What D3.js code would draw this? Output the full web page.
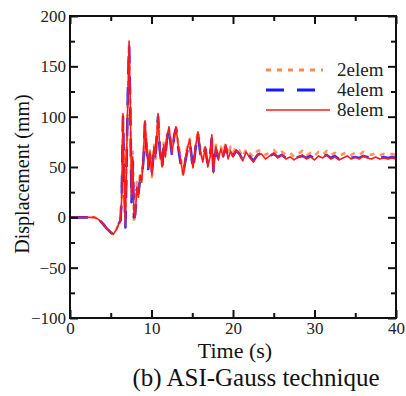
<!DOCTYPE html>
<html><head><meta charset="utf-8">
<script src="https://cdn.jsdelivr.net/npm/d3@7"></script>
</head>
<body style="margin:0;font-family:'Liberation Serif'"><svg id="c" width="406" height="396" font-family="Liberation Serif"></svg>
<script>
// ---- data ----
const time = [0,1.5,3.0,3.5,4.0,4.5,5.0,5.3,5.7,6.0,
  6.2,6.35,6.5,6.65,6.8,6.95,7.1,7.25,7.4,7.55,
  7.7,7.85,8.0,8.2,8.4,8.6,8.8,9.0,9.2,9.4,
  9.6,9.8,10.05,10.3,10.5,10.8,11.0,11.3,11.5,11.7,
  11.9,12.15,12.5,12.8,13.0,13.3,13.6,13.9,14.2,14.5,
  14.7,14.9,15.1,15.4,15.7,16.0,16.3,16.6,16.9,17.2,
  17.4,17.6,17.9,18.2,18.5,18.8,19.1,19.4,19.7,20.0,
  20.4,20.8,21.2,21.6,22.0,22.5,23.0,23.5,24.0,24.5,
  25.0,25.5,26.0,26.5,27.0,27.5,28.0,28.5,29.0,29.5,
  30.0,30.5,31.0,31.5,32.0,32.5,33.0,33.5,34.0,34.5,
  35.0,35.5,36.0,36.5,37.0,37.5,38.0,38.5,39.0,39.5,
  40.0];
const disp2elem = [0,0,0,-2,-6,-11,-15,-17,-12,-6,
  -4,18,95,45,-2,65,115,168,115,25,
  65,-6,5,35,22,45,38,62,92,72,
  52,68,40,72,58,98,72,52,74,62,
  82,86,66,78,92,72,58,40,62,74,
  78,58,52,72,86,67,58,72,55,64,
  80,50,72,62,70,64,74,62,70,64,
  70,66,60,68,64,60,66,67,62,65,
  67,62,65,62,64,60,63,66,61,64,
  61,65,62,66,62,64,61,63,65,62,
  64,62,65,63,62,64,62,63,62,63,
  62];
const disp4elem = [0,0,0,-2,-6,-11,-15,-17,-12,-6,
  -3,22,100,35,-10,55,125,172,105,15,
  55,0,3,28,24,38,40,55,94,66,
  48,62,45,68,62,100,68,48,70,62,
  78,88,62,82,88,68,52,45,58,70,
  75,62,47,68,82,63,57,68,52,62,
  78,46,68,58,66,61,70,59,65,61,
  66,63,57,64,61,56,62,64,59,61,
  63,60,62,59,61,58,60,61,59,61,
  58,61,60,62,59,61,58,60,61,59,
  60,59,61,60,59,60,59,60,59,60,
  59];
const disp8elem = [0,0,0,-2,-6,-11,-15,-17,-12,-6,
  -3,20,103,40,-8,60,120,175,110,20,
  60,5,0,30,20,42,35,60,96,70,
  50,65,42,70,60,103,70,50,72,60,
  80,90,64,80,90,70,55,42,60,72,
  77,60,49,70,85,65,55,70,50,60,
  82,44,70,57,68,60,72,58,66,60,
  67,62,56,65,60,55,62,63,58,61,
  64,59,62,58,60,57,60,62,58,60,
  57,61,59,62,58,60,57,59,61,58,
  60,58,61,59,58,60,58,59,58,59,
  58];
const seriesNames = ["2elem","4elem","8elem"];
const xMajorTicks = [0,10,20,30,40];
const xMinorTicks = [5,15,25,35];
const yMajorTicks = [-100,-50,0,50,100,150,200];
const yMinorTicks = [-75,-25,25,75,125,175];
const xTitle = "Time (s)";
const yTitle = "Displacement (mm)";
const caption = "(b) ASI-Gauss technique";

// ---- layout ----
const FONT = "Liberation Serif";
const svg = d3.select("#c");
const L = 70, R = 396, T = 16, B = 318;
const x = d3.scaleLinear().domain([0,40]).range([L,R]);
const y = d3.scaleLinear().domain([-100,200]).range([B,T]);

const styles = {
  "2elem": {color:"#ff8a4c", width:2.6, dash:"5,6"},
  "4elem": {color:"#1a1aff", width:2.6, dash:"18,13"},
  "8elem": {color:"#ff1a1a", width:1.6, dash:null}
};
const dataBy = {"2elem":disp2elem, "4elem":disp4elem, "8elem":disp8elem};

svg.append("clipPath").attr("id","clip").append("rect")
  .attr("x",L).attr("y",T).attr("width",R-L).attr("height",B-T);

const line = d3.line().x((d,i)=>x(time[i])).y(d=>y(d));
const gl = svg.append("g").attr("clip-path","url(#clip)");
seriesNames.forEach(n=>{
  const s = styles[n];
  gl.append("path").datum(dataBy[n])
    .attr("d",line).attr("fill","none")
    .attr("stroke",s.color).attr("stroke-width",s.width)
    .attr("stroke-dasharray",s.dash).attr("stroke-linejoin","round")
    .attr("opacity", n==="8elem"?1:0.9);
});

// axes
const fs = 17;
function styleAxis(g){
  g.attr("font-family",FONT).attr("font-size",fs);
  g.select(".domain").remove();
  g.selectAll(".tick line").attr("stroke","#111").attr("stroke-width",2);
  g.selectAll(".tick text").attr("fill","#222")
    .attr("font-family",FONT).attr("font-size",fs);
}
svg.append("g").attr("transform",`translate(0,${B})`)
  .call(d3.axisBottom(x).tickValues(xMajorTicks).tickSize(-8).tickPadding(4).tickFormat(d3.format("d")))
  .call(styleAxis);
svg.append("g").attr("transform",`translate(0,${B})`)
  .call(d3.axisBottom(x).tickValues(xMinorTicks).tickSize(-5).tickFormat(""))
  .call(styleAxis);
svg.append("g").attr("transform",`translate(0,${T})`)
  .call(d3.axisTop(x).tickValues(xMajorTicks).tickSize(-8).tickFormat(""))
  .call(styleAxis);
svg.append("g").attr("transform",`translate(0,${T})`)
  .call(d3.axisTop(x).tickValues(xMinorTicks).tickSize(-5).tickFormat(""))
  .call(styleAxis);
svg.append("g").attr("transform",`translate(${L},0)`)
  .call(d3.axisLeft(y).tickValues(yMajorTicks).tickSize(-8).tickPadding(4).tickFormat(d3.format("d")))
  .call(styleAxis);
svg.append("g").attr("transform",`translate(${L},0)`)
  .call(d3.axisLeft(y).tickValues(yMinorTicks).tickSize(-5).tickFormat(""))
  .call(styleAxis);
svg.append("g").attr("transform",`translate(${R},0)`)
  .call(d3.axisRight(y).tickValues(yMajorTicks).tickSize(-8).tickFormat(""))
  .call(styleAxis);
svg.append("g").attr("transform",`translate(${R},0)`)
  .call(d3.axisRight(y).tickValues(yMinorTicks).tickSize(-5).tickFormat(""))
  .call(styleAxis);

svg.append("rect").attr("x",L).attr("y",T).attr("width",R-L).attr("height",B-T)
  .attr("fill","none").attr("stroke","#111").attr("stroke-width",2);

// titles
function txt(sel,size){ return sel.attr("font-family",FONT).attr("font-size",size).attr("fill","#111"); }
txt(svg.append("text").attr("x",235).attr("y",358).attr("text-anchor","middle"),22).text(xTitle);
txt(svg.append("text").attr("transform",`translate(29,174) rotate(-90)`).attr("text-anchor","middle"),20).text(yTitle);
txt(svg.append("text").attr("x",256).attr("y",386).attr("text-anchor","middle"),25).text(caption);

// legend
const lg = svg.append("g");
seriesNames.forEach((n,i)=>{
  const s = styles[n];
  const yy = 70 + i*20;
  lg.append("line").attr("x1",266).attr("x2",n==="4elem"?317:(n==="2elem"?323:330))
    .attr("y1",yy).attr("y2",yy)
    .attr("stroke",s.color).attr("stroke-width",n==="8elem"?1.6:3)
    .attr("stroke-dasharray",s.dash);
  txt(lg.append("text").attr("x",337).attr("y",yy+6),19).attr("fill","#222").text(n);
});
</script>
</body></html>
